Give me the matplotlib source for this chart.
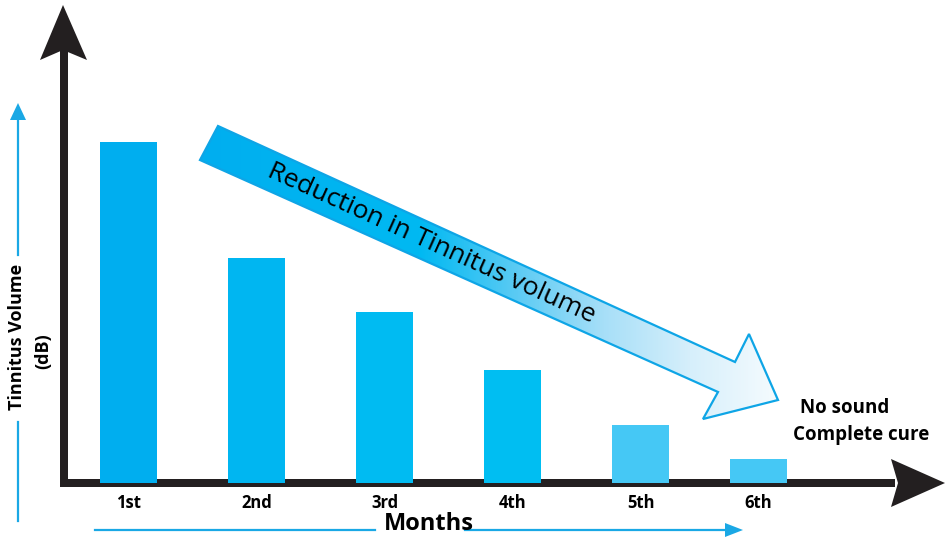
import numpy as np
import matplotlib
matplotlib.use("Agg")
import matplotlib.pyplot as plt
from matplotlib.patches import Polygon
from matplotlib.colors import LinearSegmentedColormap

plt.rcParams['font.family'] = ['Open Sans', 'DejaVu Sans']

# data
months = ['1st', '2nd', '3rd', '4th', '5th', '6th']
volume = [100, 66, 50, 33, 17, 7]
bar_colors = ['#00AEEF', '#00B6F1', '#00BBF2', '#00BEF2', '#45C8F5', '#45C8F5']
x_pos = [0, 1, 2, 3, 4, 4.92]

W, H = 950, 541
fig = plt.figure(figsize=(W / 100, H / 100), dpi=100)

# overlay in pixel units for the hand-drawn decorations
deco = fig.add_axes([0, 0, 1, 1])
deco.set_xlim(0, W)
deco.set_ylim(H, 0)
deco.axis('off')

# bar axes
left, right, bottom, top = 64, 945, 483, 5
ax = fig.add_axes([left / W, (H - bottom) / H, (right - left) / W, (bottom - top) / H])
ax.bar(x_pos, volume, width=0.445, color=bar_colors, zorder=2)
ax.set_xlim(-64.5 / 128, -64.5 / 128 + (right - left) / 128)
ax.set_ylim(0, 140)
for s in ax.spines.values():
    s.set_visible(False)
ax.set_yticks([])
ax.set_xticks(x_pos, months, fontsize=12, fontweight='bold')
ax.tick_params(axis='x', length=0, pad=8)
ax.patch.set_alpha(0)

# black axis arrows
ink = '#231F20'
lw = 8 * 72 / 100
deco.plot([64, 64], [50, 487], color=ink, lw=lw, solid_capstyle='butt', zorder=5)
deco.plot([60, 895], [483, 483], color=ink, lw=lw, solid_capstyle='butt', zorder=5)
deco.add_patch(Polygon([(63, 5), (87, 60), (63, 50), (40, 60)], closed=True,
                       color=ink, lw=0, zorder=6))
deco.add_patch(Polygon([(945, 483), (891, 507), (898, 483), (891, 459)], closed=True,
                       color=ink, lw=0, zorder=6))

# big gradient arrow
pts = [(218, 126), (735, 362), (749, 334), (778, 400), (703, 419), (718, 392), (200, 160)]
arrow = Polygon(pts, closed=True, facecolor='none', edgecolor='#0EA5E6', lw=1.6, zorder=4)
deco.add_patch(arrow)
cmap = LinearSegmentedColormap.from_list('fade', [
    (0.0, '#00AEEF'), (0.38, '#00B9F2'), (0.55, '#5CCBF4'),
    (0.7, '#A7DFF8'), (0.85, '#D6EFFB'), (1.0, '#F5FBFE')])
grad = np.linspace(0, 1, 256).reshape(1, -1)
im = deco.imshow(grad, cmap=cmap, extent=(200, 778, 419, 126), aspect='auto', zorder=3)
im.set_clip_path(arrow)
deco.set_xlim(0, W)
deco.set_ylim(H, 0)
deco.text(431, 244, 'Reduction in Tinnitus volume', fontsize=19, rotation=-24.3,
          rotation_mode='anchor', ha='center', va='center', color='black', zorder=7)

# end note
deco.text(845, 408, 'No sound', fontsize=13.5, fontweight='bold', ha='center', va='center')
deco.text(861, 435, 'Complete cure', fontsize=13.5, fontweight='bold', ha='center', va='center')

# blue guide arrows and axis titles
blue = '#1AA8E5'
deco.plot([18, 18], [422, 521], color=blue, lw=1.6)
deco.plot([18, 18], [118, 255], color=blue, lw=1.6)
deco.add_patch(Polygon([(18, 103), (26, 120), (10, 120)], closed=True, color=blue, lw=0))
deco.text(17, 337, 'Tinnitus Volume', fontsize=13, fontweight='bold', rotation=90,
          ha='center', va='center')
deco.text(43, 351, '(dB)', fontsize=13, fontweight='bold', rotation=90,
          ha='center', va='center')

deco.plot([95, 375], [530, 530], color=blue, lw=1.6)
deco.plot([465, 727], [530, 530], color=blue, lw=1.6)
deco.add_patch(Polygon([(743, 530), (725, 523), (725, 537)], closed=True, color=blue, lw=0))
deco.text(429, 524, 'Months', fontsize=17, fontweight='bold', ha='center', va='center')

fig.savefig('out.png', dpi=100)
